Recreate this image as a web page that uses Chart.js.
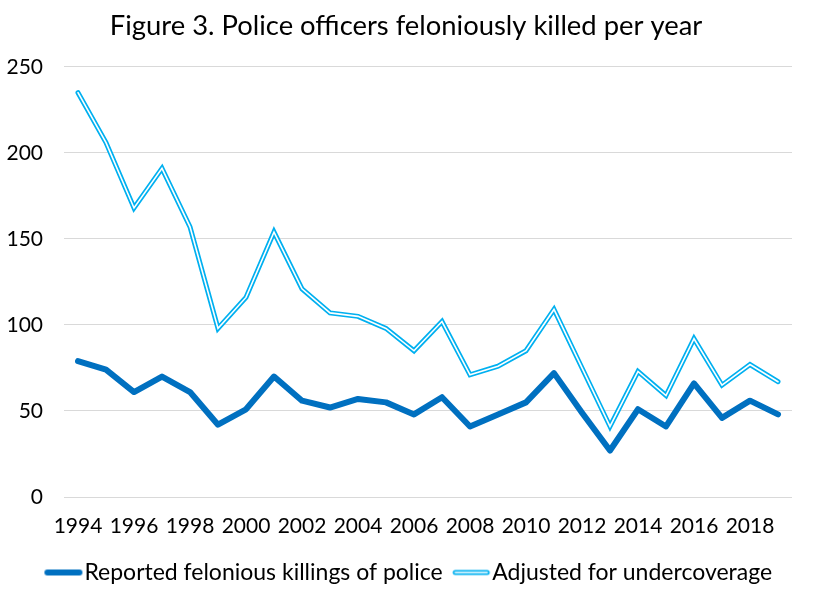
<!DOCTYPE html>
<html>
<head>
<meta charset="utf-8">
<script src="https://cdn.jsdelivr.net/npm/chart.js@4.4.1/dist/chart.umd.min.js"></script>
<style>
  html, body { margin: 0; padding: 0; background: #fff; }
  #wrap { width: 813px; height: 594px; }
</style>
</head>
<body>
<div id="wrap"><canvas id="chart"></canvas></div>
<script>
const years = ['1994','1995','1996','1997','1998','1999','2000','2001','2002','2003','2004','2005','2006',
               '2007','2008','2009','2010','2011','2012','2013','2014','2015','2016','2017','2018','2019'];
const reported = [79, 74, 61, 70, 61, 42, 51, 70, 56, 52, 57, 55, 48, 58, 41, 48, 55, 72, 49, 27, 51, 41, 66, 46, 56, 48];
const adjusted = [235, 206, 168, 191, 157, 98, 116, 154, 121, 107, 105, 98, 85, 102, 71, 76, 85, 109, 75, 41, 73, 59, 92, 65, 77, 67];
const yTicks = [0, 50, 100, 150, 200, 250];

const darkBlue = '#0070C0';
const lightBlue = '#00B0F0';

// small canvases used as legend markers (line drawn toward the right so it sits next to the text)
function legendLine(color, hollow) {
    const c = document.createElement('canvas');
    c.width = 60;
    c.height = 8;
    const g = c.getContext('2d');
    g.lineCap = 'round';
    g.strokeStyle = color;
    g.lineWidth = hollow ? 5 : 6;
    g.beginPath();
    g.moveTo(21, 4);
    g.lineTo(53, 4);
    g.stroke();
    if (hollow) {
        g.strokeStyle = '#fff';
        g.lineWidth = 1.6;
        g.beginPath();
        g.moveTo(21, 4);
        g.lineTo(53, 4);
        g.stroke();
    }
    return c;
}

const ctx = document.getElementById('chart').getContext('2d');
new Chart(ctx, {
    type: 'line',
    data: {
        labels: years,
        datasets: [
            {
                label: 'Reported felonious killings of police',
                data: reported,
                borderColor: darkBlue,
                borderWidth: 6,
                borderCapStyle: 'round',
                borderJoinStyle: 'round',
                pointRadius: 0,
                tension: 0,
                order: 2
            },
            {
                label: 'Adjusted for undercoverage',
                data: adjusted,
                borderColor: lightBlue,
                borderWidth: 5,
                borderCapStyle: 'round',
                borderJoinStyle: 'miter',
                pointRadius: 0,
                tension: 0,
                order: 1
            },
            {
                // white core drawn over the light blue line -> double line look
                label: 'inner',
                data: adjusted,
                borderColor: '#fff',
                borderWidth: 1.6,
                borderCapStyle: 'round',
                borderJoinStyle: 'miter',
                pointRadius: 0,
                tension: 0,
                order: 0
            }
        ]
    },
    options: {
        responsive: true,
        maintainAspectRatio: false,
        animation: false,
        layout: { padding: { left: 4, right: 5, top: 6, bottom: 0 } },
        plugins: {
            tooltip: { enabled: false },
            title: {
                display: true,
                text: 'Figure 3. Police officers feloniously killed per year',
                color: '#000',
                font: { family: 'Lato', size: 27.4, weight: 'normal' },
                padding: { top: 4, bottom: 24 }
            },
            legend: {
                position: 'bottom',
                labels: {
                    usePointStyle: true,
                    pointStyleWidth: 33,
                    boxWidth: 33,
                    padding: 5,
                    color: '#000',
                    font: { family: 'Lato', size: 23 },
                    generateLabels: function(chart) {
                        return [
                            { text: 'Reported felonious killings of police', pointStyle: legendLine(darkBlue, false),
                              fillStyle: darkBlue, strokeStyle: darkBlue, lineWidth: 0, datasetIndex: 0, hidden: false },
                            { text: 'Adjusted for undercoverage', pointStyle: legendLine(lightBlue, true),
                              fillStyle: lightBlue, strokeStyle: lightBlue, lineWidth: 0, datasetIndex: 1, hidden: false }
                        ];
                    }
                }
            }
        },
        scales: {
            x: {
                offset: true,
                grid: { display: false, drawTicks: false },
                border: { display: false },
                afterFit: function(axis) {
                    axis.height = 59;
                },
                ticks: {
                    autoSkip: false,
                    maxRotation: 0,
                    padding: 17,
                    color: '#000',
                    font: { family: 'Lato', size: 21 },
                    callback: function(value, index) {
                        return index % 2 === 0 ? years[index] : '';
                    }
                }
            },
            y: {
                min: 0,
                max: 250,
                afterBuildTicks: function(axis) {
                    axis.ticks = yTicks.map(v => ({ value: v }));
                },
                afterFit: function(axis) {
                    axis.width = 60;
                },
                grid: { color: '#d9d9d9', lineWidth: 1, drawTicks: false },
                border: { display: false },
                ticks: {
                    padding: 21,
                    color: '#000',
                    font: { family: 'Lato', size: 21 }
                }
            },
            // empty right-hand axis, only keeps a margin on the right of the plot
            yRight: {
                position: 'right',
                display: true,
                grid: { display: false, drawTicks: false },
                border: { display: false },
                ticks: { display: false },
                afterFit: function(axis) {
                    axis.width = 16;
                }
            }
        }
    }
});
</script>
</body>
</html>
